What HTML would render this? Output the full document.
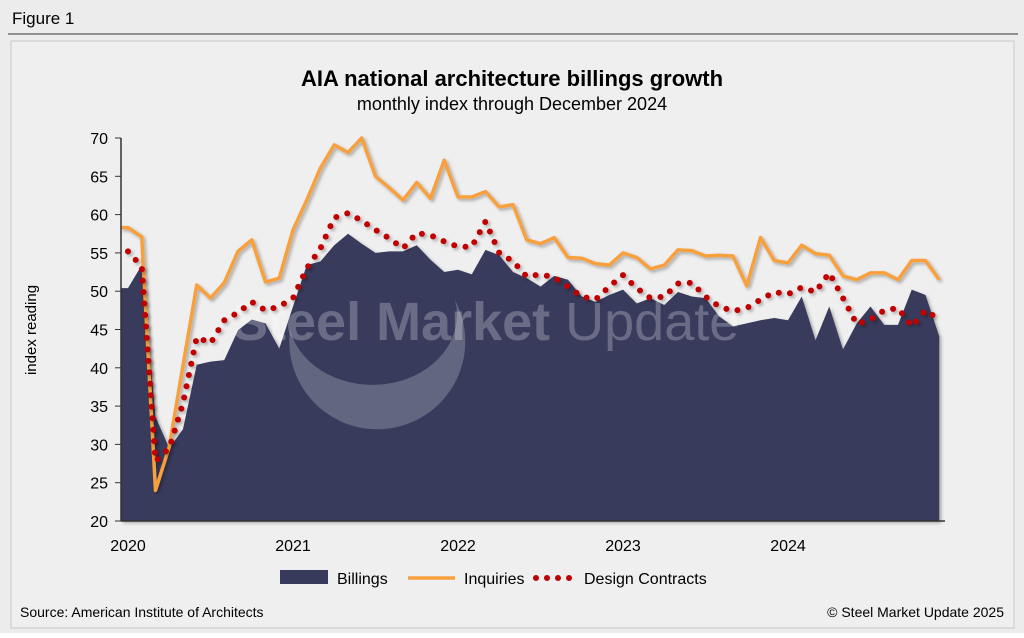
<!DOCTYPE html>
<html><head><meta charset="utf-8"><style>
body{margin:0;width:1024px;height:633px;background:#fff;font-family:"Liberation Sans",Arial,sans-serif;overflow:hidden}
</style></head><body>
<svg id="c" width="1024" height="633" xmlns="http://www.w3.org/2000/svg">
<defs><filter id="sh" x="-5%" y="-5%" width="110%" height="110%"><feDropShadow dx="2" dy="2" stdDeviation="1.5" flood-color="#000" flood-opacity="0.3"/></filter></defs>
<rect x="0" y="0" width="1024" height="633" fill="#ececec"/>
<text x="12" y="24" font-size="17" fill="#000">Figure 1</text>
<line x1="8" y1="34" x2="1018" y2="34" stroke="#333" stroke-width="1"/>
<rect x="11" y="41" width="1003" height="587" fill="#efefef" stroke="#c8c8c8"/>
<text x="512" y="86" font-size="22" font-weight="bold" text-anchor="middle">AIA national architecture billings growth</text>
<text x="512" y="110" font-size="18" text-anchor="middle">monthly index through December 2024</text>
<text transform="translate(36,330) rotate(-90)" font-size="15" text-anchor="middle">index reading</text>
<g id="plot"></g>
<g>
<rect x="280" y="570" width="48" height="14" fill="#383a5c"/>
<text x="337" y="584" font-size="16">Billings</text>
<line x1="408" y1="578" x2="455" y2="578" stroke="#f7a03e" stroke-width="3.5"/>
<text x="464" y="584" font-size="16">Inquiries</text>
<line x1="536" y1="578" x2="576" y2="578" stroke="#c00000" stroke-width="6" stroke-linecap="round" stroke-dasharray="0 11"/>
<text x="584" y="584" font-size="16">Design Contracts</text>
</g>
<text x="20" y="617" font-size="14">Source: American Institute of Architects</text>
<text x="1004" y="617" font-size="14" text-anchor="end">© Steel Market Update 2025</text>
</svg>
<script>
const billings=[50.4,53.4,33.6,29.5,32,40.4,40.8,41,44.9,46.3,45.8,42.5,48,53.4,53.9,56,57.5,56.2,55,55.2,55.2,56,54.1,52.5,52.8,52.2,55.4,54.7,52.5,51.7,50.6,52,51.5,49.3,48.6,49.5,50.2,48.4,49.1,48.2,49.9,49.3,49.1,46.7,45.4,45.8,46.2,46.5,46.2,49.3,43.6,48,42.4,45.8,48,45.6,45.6,50.2,49.5,44.1];
const inquiries=[58.3,57.1,24,29.7,40.3,50.8,49.1,51.1,55.2,56.7,51.2,51.7,58,61.9,66.1,69.1,68.1,70,65,63.5,61.9,64.2,62.1,67.1,62.3,62.3,63,61,61.3,56.7,56.2,57,54.4,54.3,53.6,53.4,55,54.4,52.9,53.4,55.4,55.3,54.6,54.7,54.6,50.7,57,54,53.7,56,54.9,54.7,52,51.5,52.4,52.4,51.5,54,54,51.5];
const contracts=[55.2,53.2,27.8,29.5,35.4,44,43.2,46.2,47.2,48.6,47.5,48,49.1,53,55.6,59.6,60.2,59.2,58,56.9,55.6,57.6,57.3,56.5,55.8,55.8,59.1,55,53.9,51.9,52.2,51.8,50.6,49.3,48.9,50.6,52.1,50.4,49.1,49.3,51,51.1,49.3,48,47.4,47.8,48.9,49.9,49.6,50.5,49.9,52.4,49.1,45.7,46.3,47.5,47.8,45.4,47.5,46.3];
const yTicks=[20,25,30,35,40,45,50,55,60,65,70];
const years=["2020","2021","2022","2023","2024"];
const NS="http://www.w3.org/2000/svg";
const X0=128,DX=13.75,Y0=521,PY=7.66;
const xs=i=>X0+i*DX, ys=v=>Y0-(v-20)*PY;
const plot=document.getElementById('plot');
function mk(t,a){const e=document.createElementNS(NS,t);for(const k in a)e.setAttribute(k,a[k]);plot.appendChild(e);return e;}
let d='M121,'+Y0+' L121,'+ys(billings[0]);
billings.forEach((v,i)=>d+=' L'+xs(i)+','+ys(v));
d+=' L'+xs(billings.length-1)+','+Y0+' Z';
const area=mk('path',{d:d,fill:'#383a5c',filter:'url(#sh)'});


const wm=mk('path',{d:'M455,300 A88,88 0 1 1 290,330 A75,62 0 1 0 455,300 Z',fill:'rgba(255,255,255,0.22)'});


const wt=mk('text',{x:232,y:340,'font-size':54,fill:'rgba(255,255,255,0.25)'});


const t1=document.createElementNS(NS,'tspan');t1.setAttribute('font-weight','bold');t1.textContent='Steel Market ';wt.appendChild(t1);
const t2=document.createElementNS(NS,'tspan');t2.textContent='Update';wt.appendChild(t2);
const ref=mk('line',{x1:121,x2:945,y1:ys(50),y2:ys(50),stroke:'#fff','stroke-width':3,filter:'url(#sh)'});


const inq=mk('polyline',{points:'121,'+ys(inquiries[0])+' '+inquiries.map((v,i)=>xs(i)+','+ys(v)).join(' '),fill:'none',stroke:'#f7a03e','stroke-width':3.5,'stroke-linejoin':'round',filter:'url(#sh)'});


const con=mk('polyline',{points:contracts.map((v,i)=>xs(i)+','+ys(v)).join(' '),fill:'none',stroke:'#c00000','stroke-width':6,'stroke-linecap':'round','stroke-dasharray':'0 11.5',filter:'url(#sh)'});


const ya=mk('line',{x1:121,x2:121,y1:ys(70),y2:Y0,stroke:'#333','stroke-width':1.5});


const xa=mk('line',{x1:121,x2:945,y1:Y0,y2:Y0,stroke:'#333','stroke-width':1.5});


yTicks.forEach(v=>{
 const t=mk('line',{x1:115,x2:121,y1:ys(v),y2:ys(v),stroke:'#333'});
 
 
 const l=mk('text',{x:108,y:ys(v)+6,'font-size':16,'text-anchor':'end'});
 l.textContent=v;
 
 
});
years.forEach((y,i)=>{
 const l=mk('text',{x:xs(i*12),y:551,'font-size':16,'text-anchor':'middle'});
 l.textContent=y;
 
 
});
</script>
</body></html>
